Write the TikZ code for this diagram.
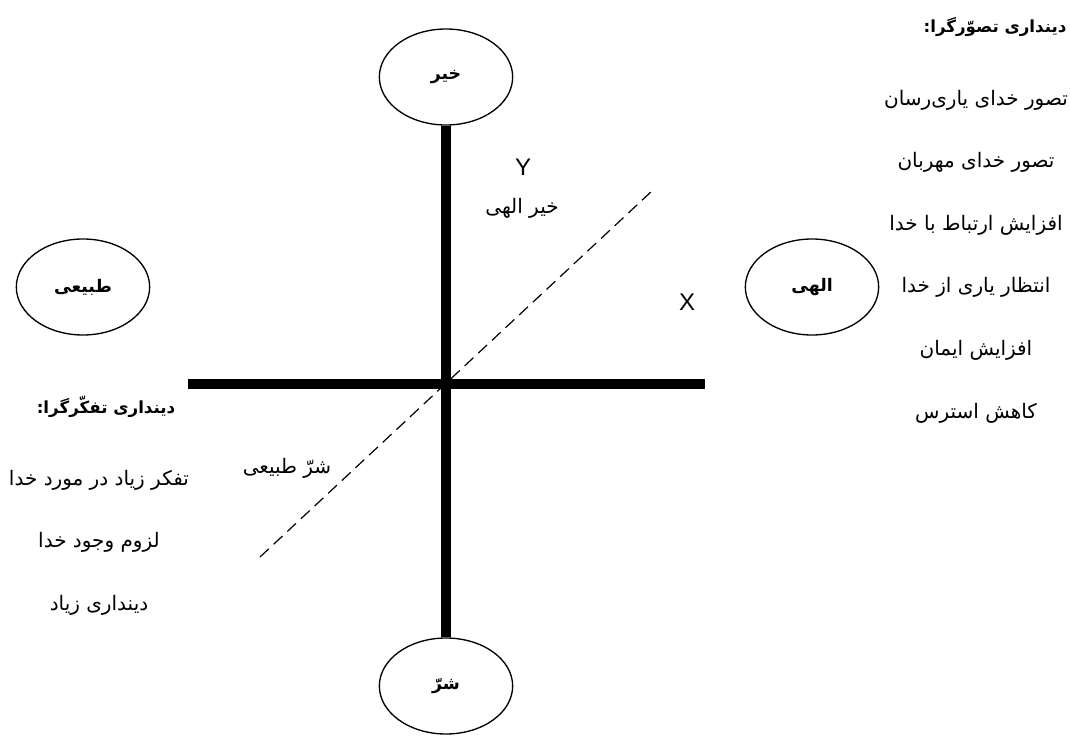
\documentclass[tikz,border=0pt]{standalone}
\usepackage{fontspec}
\setmainfont{Liberation Sans}
\newfontfamily\farsi[Script=Arabic]{DejaVu Sans}
\TeXXeTstate=1
\usetikzlibrary{positioning,shapes.geometric}

\newcommand\fa[1]{{\farsi\beginR #1\endR}}

\begin{document}
\begin{tikzpicture}[x=0.75pt,y=-0.75pt,node distance=28.5pt,
  pole/.style={draw,ellipse,line width=1pt,minimum width=100pt,minimum height=72pt,
    font=\farsi\bfseries\fontsize{13}{15}\selectfont},
  axis/.style={line width=7.5pt},
  diag/.style={line width=0.9pt,dash pattern=on 9pt off 5pt},
  item/.style={font=\farsi\fontsize{15}{18}\selectfont,text height=13pt,text depth=5pt,inner sep=0pt},
  head/.style={item,font=\farsi\bfseries\fontsize{12.5}{15}\selectfont},
  letter/.style={font=\fontsize{18}{20}\selectfont,inner sep=0pt}]
  \useasboundingbox (0,0) rectangle (1070,735);
  % the four poles
  \node[pole] (good) at (446,77) {\fa{خیر}};
  \node[pole] (evil) at (446,686) {\fa{شرّ}};
  \node[pole] (natural) at (83,287) {\fa{طبیعی}};
  \node[pole] (divine) at (812,287) {\fa{الهی}};
  % axes
  \coordinate (west) at (188,384);
  \coordinate (east) at (705,384);
  \draw[axis] (good) -- (evil);
  \draw[axis] (west) -- (east);
  \coordinate (lo) at (260,557);
  \coordinate (hi) at (653,190);
  \draw[diag] (lo) -- (hi);
  % axis labels
  \node[letter] (ylab) at (523,167) {Y};
  \node[letter] (xlab) at (687,302) {X};
  \node[item] (goodlab) at (522,208) {\fa{خیر الهی}};
  \node[item] (evillab) at (287,468) {\fa{شرّ طبیعی}};
  % right column
  \node[head] (rhead) at (995,27) {\fa{دینداری تصوّرگرا:}};
  \node[item] (r1) at (976,100) {\fa{تصور خدای یاری‌رسان}};
  \node[item,below=of r1] (r2) {\fa{تصور خدای مهربان}};
  \node[item,below=of r2] (r3) {\fa{افزایش ارتباط با خدا}};
  \node[item,below=of r3] (r4) {\fa{انتظار یاری از خدا}};
  \node[item,below=of r4] (r5) {\fa{افزایش ایمان}};
  \node[item,below=of r5] (r6) {\fa{کاهش استرس}};
  % left column
  \node[head] (lhead) at (106,408) {\fa{دینداری تفکّرگرا:}};
  \node[item] (l1) at (99,480) {\fa{تفکر زیاد در مورد خدا}};
  \node[item,below=of l1] (l2) {\fa{لزوم وجود خدا}};
  \node[item,below=of l2] (l3) {\fa{دینداری زیاد}};
\end{tikzpicture}
\end{document}
